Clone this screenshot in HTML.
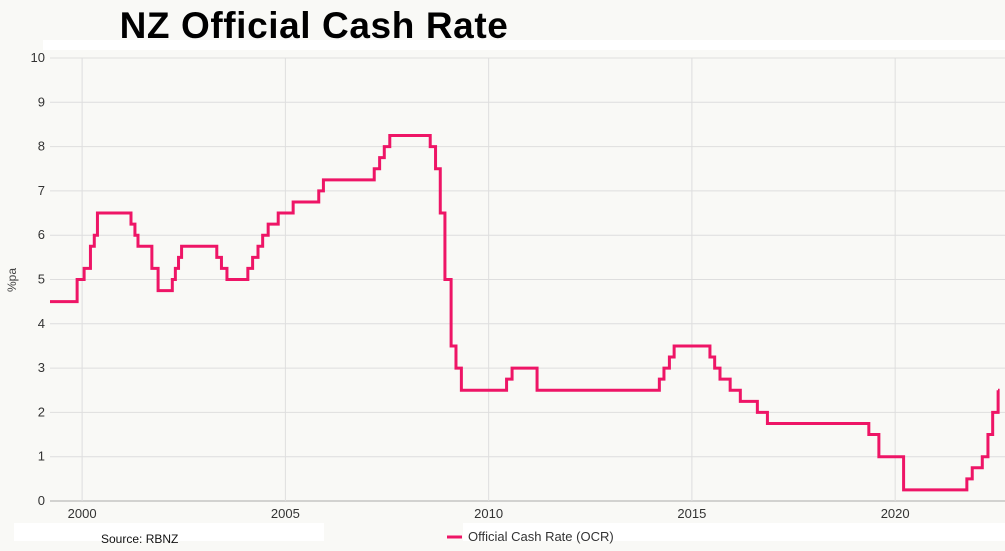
<!DOCTYPE html>
<html><head><meta charset="utf-8"><style>
body{margin:0;background:#f9f9f6;}
svg{display:block;font-family:"Liberation Sans",sans-serif;}
</style></head><body>
<svg id="c" width="1005" height="551">
<rect x="0" y="0" width="1005" height="551" fill="#f9f9f6"/>
<rect x="43" y="40" width="962" height="10" fill="#ffffff"/>
<rect x="14" y="523" width="310" height="18" fill="#ffffff"/>
<rect x="463" y="523" width="542" height="18" fill="#ffffff"/>
<text x="314" y="38" text-anchor="middle" font-size="37" font-weight="bold" letter-spacing="0.6" fill="#000">NZ Official Cash Rate</text>
<text transform="translate(16,280) rotate(-90)" text-anchor="middle" font-size="12" fill="#444">%pa</text>
<g id="grid"></g>
<path id="line" fill="none" stroke="#ee1566" stroke-width="3" stroke-linejoin="miter"/>
<text x="101" y="543" font-size="12" fill="#111">Source: RBNZ</text>
<g>
<line x1="447" y1="537" x2="462" y2="537" stroke="#ee1566" stroke-width="3"/>
<text x="468" y="541" font-size="13" fill="#333">Official Cash Rate (OCR)</text>
</g>
</svg>
<script>
const yTicks=[0,1,2,3,4,5,6,7,8,9,10];
const xTicks=[2000,2005,2010,2015,2020];
const dates=["1999-03-17","1999-11-17","2000-01-19","2000-03-15","2000-04-19","2000-05-17","2001-03-14","2001-04-19","2001-05-16","2001-09-19","2001-11-14","2002-03-20","2002-04-17","2002-05-15","2002-06-12","2003-04-24","2003-06-05","2003-07-24","2004-01-29","2004-03-11","2004-04-29","2004-06-10","2004-07-29","2004-10-28","2005-03-10","2005-10-27","2005-12-08","2007-03-08","2007-04-26","2007-06-07","2007-07-26","2008-07-24","2008-09-11","2008-10-23","2008-12-04","2009-01-29","2009-03-12","2009-04-30","2010-06-10","2010-07-29","2011-03-10","2014-03-13","2014-04-24","2014-06-12","2014-07-24","2015-06-11","2015-07-23","2015-09-10","2015-12-10","2016-03-10","2016-08-11","2016-11-10","2019-05-08","2019-08-07","2020-03-16","2021-10-06","2021-11-24","2022-02-23","2022-04-13","2022-05-25","2022-07-13"];
const rates=[4.5,5.0,5.25,5.75,6.0,6.5,6.25,6.0,5.75,5.25,4.75,5.0,5.25,5.5,5.75,5.5,5.25,5.0,5.25,5.5,5.75,6.0,6.25,6.5,6.75,7.0,7.25,7.5,7.75,8.0,8.25,8.0,7.5,6.5,5.0,3.5,3.0,2.5,2.75,3.0,2.5,2.75,3.0,3.25,3.5,3.25,3.0,2.75,2.5,2.25,2.0,1.75,1.5,1.0,0.25,0.5,0.75,1.0,1.5,2.0,2.5];
const X0=1999.21,X1=2022.53,PX0=50,PX1=998,PY0=501,PY1=58;
const xs=v=>PX0+(v-X0)/(X1-X0)*(PX1-PX0);
const ys=v=>PY0-v/10*(PY0-PY1);
function dec(s){const[y,m,d]=s.split('-').map(Number);return y+(m-1)/12+(d-1)/365;}
const NS="http://www.w3.org/2000/svg";
const g=document.getElementById('grid');
yTicks.forEach(t=>{
 const l=document.createElementNS(NS,'line');
 
 
 l.setAttribute('x1',PX0);l.setAttribute('x2',1005);l.setAttribute('y1',ys(t));l.setAttribute('y2',ys(t));
 l.setAttribute('stroke',t===0?'#aaa':'#dedede');l.setAttribute('stroke-width',1);g.appendChild(l);
 const tx=document.createElementNS(NS,'text');
 
 
 tx.setAttribute('x',45);tx.setAttribute('y',ys(t)+4);tx.setAttribute('text-anchor','end');
 tx.setAttribute('font-size','13');tx.setAttribute('fill','#333');tx.textContent=t;g.appendChild(tx);
});
xTicks.forEach(t=>{
 const l=document.createElementNS(NS,'line');
 
 
 l.setAttribute('x1',xs(t));l.setAttribute('x2',xs(t));l.setAttribute('y1',PY1);l.setAttribute('y2',PY0);
 l.setAttribute('stroke','#dedede');g.appendChild(l);
 const tx=document.createElementNS(NS,'text');
 
 
 tx.setAttribute('x',xs(t));tx.setAttribute('y',518);tx.setAttribute('text-anchor','middle');
 tx.setAttribute('font-size','13');tx.setAttribute('fill','#333');tx.textContent=t;g.appendChild(tx);
});
let d='M'+xs(X0)+','+ys(rates[0]);
for(let i=1;i<rates.length;i++){const x=xs(dec(dates[i]));d+=' H'+x+' V'+ys(rates[i]);}
d+=' H'+xs(X1);
document.getElementById('line').setAttribute('d',d);
</script>
</body></html>
